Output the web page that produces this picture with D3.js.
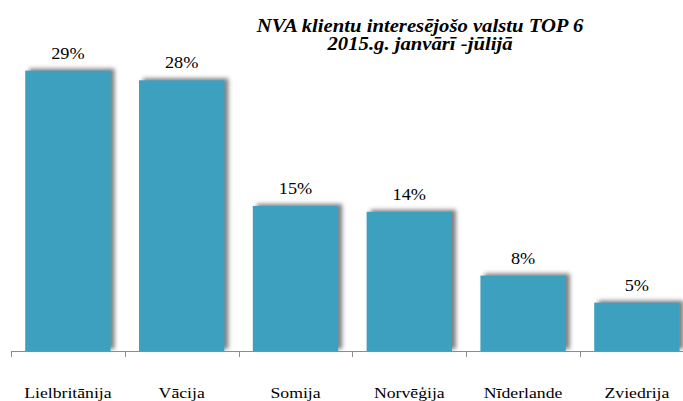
<html>
<head>
<meta charset="utf-8">
<script src="https://d3js.org/d3.v7.min.js"></script>
<style>
    body { margin: 0; background: #fff; }
</style>
</head>
<body>
<svg id="chart"></svg>
<script>
    // data
    var countries = ["Lielbritānija", "Vācija", "Somija", "Norvēģija", "Nīderlande", "Zviedrija"];
    var shares = [29.0, 28.0, 15.0, 14.4, 7.8, 5.0];
    var titleLines = ["NVA klientu interesējošo valstu TOP 6", "2015.g. janvārī -jūlijā"];

    var width = 683, height = 401;
    var axisY = 351, topY = 61;
    var serif = "'Liberation Serif', 'Times New Roman', Times, 'DejaVu Serif', serif";

    var svg = d3.select("#chart").attr("width", width).attr("height", height);

    // shadow on the bars (top and right side)
    var f = svg.append("defs").append("filter").attr("id", "shadow")
        .attr("x", "-20%").attr("y", "-20%").attr("width", "140%").attr("height", "140%");
    f.append("feDropShadow").attr("dx", 4).attr("dy", -2).attr("stdDeviation", 2)
        .attr("flood-color", "#555").attr("flood-opacity", 0.75);

    var x = d3.scaleBand().domain(countries).range([11, 11 + 6 * 113.8]).paddingInner(0.25).paddingOuter(0.125);
    var y = d3.scaleLinear().domain([0, 30]).range([axisY, topY]);

    var data = countries.map((c, i) => ({name: c, v: shares[i]}));

    svg.selectAll("rect.bar").data(data).enter()
        .append("rect")
        .attr("class", "bar")
        .attr("x", d => x(d.name))
        .attr("y", d => y(d.v))
        .attr("width", x.bandwidth())
        .attr("height", d => axisY - y(d.v))
        .attr("fill", "#3ca0bf")
        .attr("filter", "url(#shadow)");

    // percent labels (the original picture is a bit stretched sideways)
    svg.selectAll("text.val").data(data).enter()
        .append("text")
        .attr("class", "val")
        .attr("transform", d => "translate(" + (x(d.name) + x.bandwidth() / 2) + "," + (y(d.v) - 12) + ") scale(1.14,1)")
        .attr("text-anchor", "middle")
        .attr("font-family", serif)
        .attr("font-size", 16)
        .text(d => Math.round(d.v) + "%");

    // category axis, ticks sit between the bands
    var step = x.step();
    var axis = svg.append("g");
    axis.append("line")
        .attr("x1", 11).attr("x2", width)
        .attr("y1", axisY + 0.5).attr("y2", axisY + 0.5)
        .attr("stroke", "#8c8c8c");
    axis.selectAll("line.tick").data(d3.range(countries.length)).enter()
        .append("line")
        .attr("class", "tick")
        .attr("x1", i => Math.round(11 + i * step) + 0.5)
        .attr("x2", i => Math.round(11 + i * step) + 0.5)
        .attr("y1", axisY).attr("y2", axisY + 6)
        .attr("stroke", "#8c8c8c");

    axis.selectAll("text.cat").data(countries).enter()
        .append("text")
        .attr("class", "cat")
        .attr("text-anchor", "middle")
        .attr("transform", d => "translate(" + (x(d) + x.bandwidth() / 2) + ",398) scale(1.18,1)")
        .attr("font-family", serif)
        .attr("font-size", 15)
        .text(d => d);

    // title
    svg.selectAll("text.title").data(titleLines).enter()
        .append("text")
        .attr("class", "title")
        .attr("text-anchor", "middle")
        .attr("transform", (d, i) => "translate(420," + (32 + i * 18) + ") scale(1.15,1)")
        .attr("font-family", serif)
        .attr("font-size", 18)
        .attr("font-weight", "bold")
        .attr("font-style", "italic")
        .text(d => d);
</script>
</body>
</html>
